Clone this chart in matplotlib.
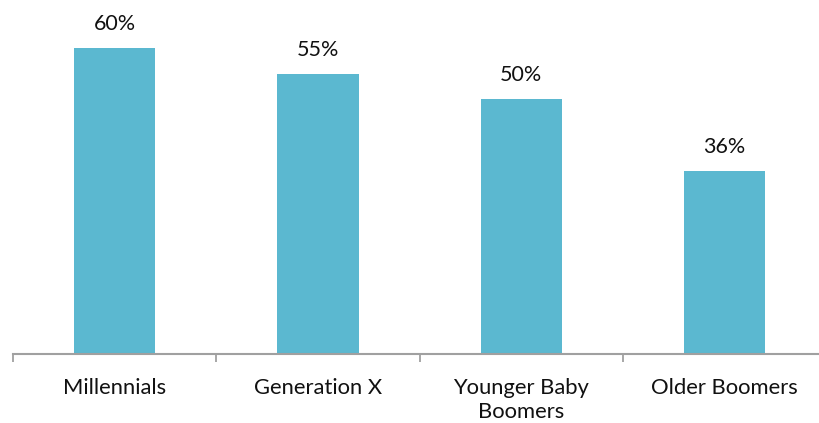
import matplotlib
matplotlib.use("Agg")
import matplotlib.pyplot as plt
from matplotlib.ticker import FixedLocator

categories = ["Millennials", "Generation X", "Younger Baby\nBoomers", "Older Boomers"]
values = [60, 55, 50, 36]
labels = ["60%", "55%", "50%", "36%"]

plt.rcParams["font.family"] = ["Lato", "DejaVu Sans"]

W, H = 819, 423
fig = plt.figure(figsize=(W / 100, H / 100), dpi=100)
ax = fig.add_axes([13 / W, 69 / H, 813.3 / W, 354 / H])

x = range(len(categories))
bars = ax.bar(x, values, width=0.4, color="#5BB8D0", zorder=2)

for b, lab in zip(bars, labels):
    ax.annotate(lab, (b.get_x() + b.get_width() / 2, b.get_height()),
                xytext=(0, 13), textcoords="offset points",
                ha="center", va="baseline", fontsize=15.5, color="#111111")

ax.set_xlim(-0.5, len(categories) - 0.5)
ax.set_ylim(0, 69.5)

ax.set_xticks(list(x))
ax.set_xticklabels(categories, fontsize=15.8, color="#111111", linespacing=1.3)
ax.tick_params(axis="x", which="major", length=0, pad=17)
ax.xaxis.set_minor_locator(FixedLocator([i - 0.5 for i in range(len(categories) + 1)]))
ax.tick_params(axis="x", which="minor", length=6, width=1.3, color="#A0A0A0", direction="out")

ax.set_yticks([])
for s in ("top", "right", "left"):
    ax.spines[s].set_visible(False)
ax.spines["bottom"].set_color("#A0A0A0")
ax.spines["bottom"].set_linewidth(1.5)

fig.savefig("out.png", dpi=100)
